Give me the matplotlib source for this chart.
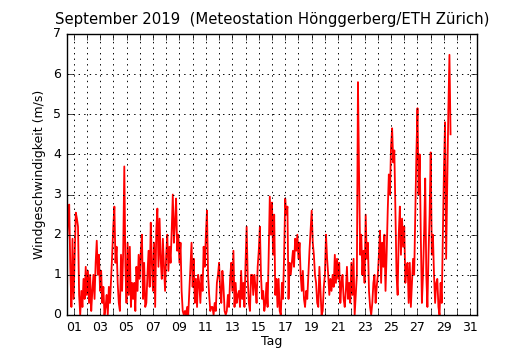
import numpy as np
import matplotlib
matplotlib.use('Agg')
import matplotlib.pyplot as plt


# Windgeschwindigkeit (m/s), 2-stuendliche Werte, ein Block pro Tag (12 Werte)
tag01 = [1.8, 2.4, 2.75, 1.2, 0.2, 1.9, 0.4, 1.5, 2.55, 2.4, 2.2, 0.5]
tag02 = [0.0, 0.6, 0.2, 0.9, 0.4, 1.2, 0.5, 1.1, 0.3, 1.0, 0.1, 0.6]
tag03 = [1.0, 0.4, 1.3, 1.85, 1.0, 1.5, 0.6, 1.1, 0.3, 0.7, 0.0, 0.2]
tag04 = [0.5, 0.0, 0.7, 0.3, 0.9, 1.5, 2.2, 2.7, 1.3, 1.7, 0.8, 0.3]
tag05 = [0.1, 1.5, 0.6, 1.6, 3.7, 1.2, 0.3, 1.8, 0.5, 1.7, 0.2, 0.8]
tag06 = [0.4, 0.8, 0.1, 1.2, 0.6, 1.5, 0.9, 1.6, 2.0, 0.4, 1.3, 0.2]
tag07 = [0.3, 1.0, 1.6, 0.7, 2.3, 1.3, 0.6, 1.8, 0.2, 2.1, 2.65, 1.2]
tag08 = [2.4, 1.4, 0.9, 1.9, 1.2, 0.6, 1.5, 2.0, 1.1, 1.7, 1.3, 2.1]
tag09 = [3.0, 1.8, 2.3, 2.9, 1.6, 2.0, 1.3, 1.8, 0.6, 0.1, 0.0, 0.1]
tag10 = [0.0, 0.2, 0.0, 0.6, 1.2, 1.8, 0.7, 1.4, 0.3, 0.9, 0.2, 1.0]
tag11 = [0.8, 0.3, 1.0, 0.6, 1.7, 1.2, 2.0, 2.6, 1.0, 0.5, 0.1, 0.2]
tag12 = [0.2, 0.0, 0.3, 0.1, 0.8, 1.0, 1.3, 0.6, 0.3, 1.1, 0.7, 0.1]
tag13 = [0.0, 0.1, 0.5, 0.2, 0.9, 1.3, 0.6, 1.6, 0.2, 0.8, 0.3, 0.5]
tag14 = [0.6, 0.2, 1.1, 0.4, 0.8, 0.2, 1.3, 2.2, 0.9, 0.3, 0.1, 1.0]
tag15 = [1.0, 0.5, 1.0, 0.7, 0.3, 1.2, 1.6, 2.2, 1.0, 0.4, 0.6, 0.1]
tag16 = [0.3, 0.8, 0.2, 1.5, 2.95, 2.0, 2.8, 1.5, 2.5, 0.5, 0.9, 0.2]
tag17 = [0.9, 0.1, 0.0, 0.8, 0.4, 1.5, 2.9, 2.5, 2.7, 0.4, 1.3, 1.0]
tag18 = [1.3, 1.6, 1.2, 1.9, 1.6, 2.0, 1.4, 1.8, 1.0, 0.6, 1.1, 0.4]
tag19 = [0.2, 0.6, 0.4, 1.0, 1.6, 2.1, 2.6, 1.8, 1.5, 1.0, 0.8, 0.3]
tag20 = [0.2, 1.2, 0.6, 0.0, 0.1, 0.7, 1.0, 2.0, 1.4, 1.0, 0.5, 0.9]
tag21 = [0.6, 1.0, 0.7, 1.5, 0.8, 1.4, 0.9, 1.3, 0.3, 0.8, 1.0, 0.4]
tag22 = [0.2, 0.6, 1.2, 0.4, 0.8, 0.3, 1.3, 0.5, 1.4, 0.0, 0.5, 1.0]
tag23 = [5.8, 3.5, 1.5, 2.0, 1.0, 1.6, 0.8, 2.5, 1.4, 1.8, 0.6, 0.2]
tag24 = [0.0, 0.3, 0.8, 1.0, 0.3, 0.7, 1.0, 1.5, 2.1, 0.8, 1.8, 1.2]
tag25 = [2.0, 0.6, 1.5, 2.6, 3.5, 3.0, 4.2, 4.65, 3.8, 4.1, 2.5, 1.0]
tag26 = [0.5, 2.0, 2.7, 1.5, 2.4, 1.7, 2.2, 0.8, 1.2, 1.3, 0.3, 1.3]
tag27 = [0.2, 0.8, 1.4, 1.0, 2.5, 4.0, 5.15, 3.0, 4.0, 2.0, 0.3, 1.0]
tag28 = [2.0, 3.4, 1.0, 0.2, 1.5, 2.5, 4.05, 1.5, 2.0, 1.0, 0.3, 0.8]
tag29 = [0.9, 0.2, 0.0, 0.8, 0.3, 2.0, 3.6, 4.8, 1.4, 3.3, 5.1, 6.48, 4.5]

tage = [tag01, tag02, tag03, tag04, tag05, tag06, tag07, tag08, tag09, tag10,
        tag11, tag12, tag13, tag14, tag15, tag16, tag17, tag18, tag19, tag20,
        tag21, tag22, tag23, tag24, tag25, tag26, tag27, tag28, tag29]

wind = np.concatenate([np.array(t) for t in tage])
zeit = 0.5 + np.arange(len(wind)) / 12.0     # Tag des Monats

tick_pos = np.arange(1, 32)
tick_lab = ['%02d' % d if d % 2 == 1 else '' for d in tick_pos]


plt.style.use('classic')
fig = plt.figure(figsize=(5.3, 3.5), dpi=100)
fig.patch.set_facecolor('white')
ax = fig.add_axes([0.1264, 0.1, 0.7736, 0.803])

ax.plot(zeit, wind, color='red', linewidth=1.3)

ax.set_xlim(0.5, 31.5)
ax.set_ylim(0, 7)
ax.set_xticks(tick_pos)
ax.set_xticklabels(tick_lab)
ax.set_yticks(np.arange(0, 8))
ax.tick_params(labelsize=9, direction='in', length=4)
ax.grid(True, color='k', linestyle=(0, (1, 3)), linewidth=0.7)

ax.set_xlabel('Tag', fontsize=9, labelpad=1)
ax.set_ylabel('Windgeschwindigkeit (m/s)', fontsize=9)
ax.set_title('September 2019  (Meteostation Hönggerberg/ETH Zürich)', fontsize=10.7, pad=7)

fig.savefig('out.png', dpi=100, facecolor='white')
